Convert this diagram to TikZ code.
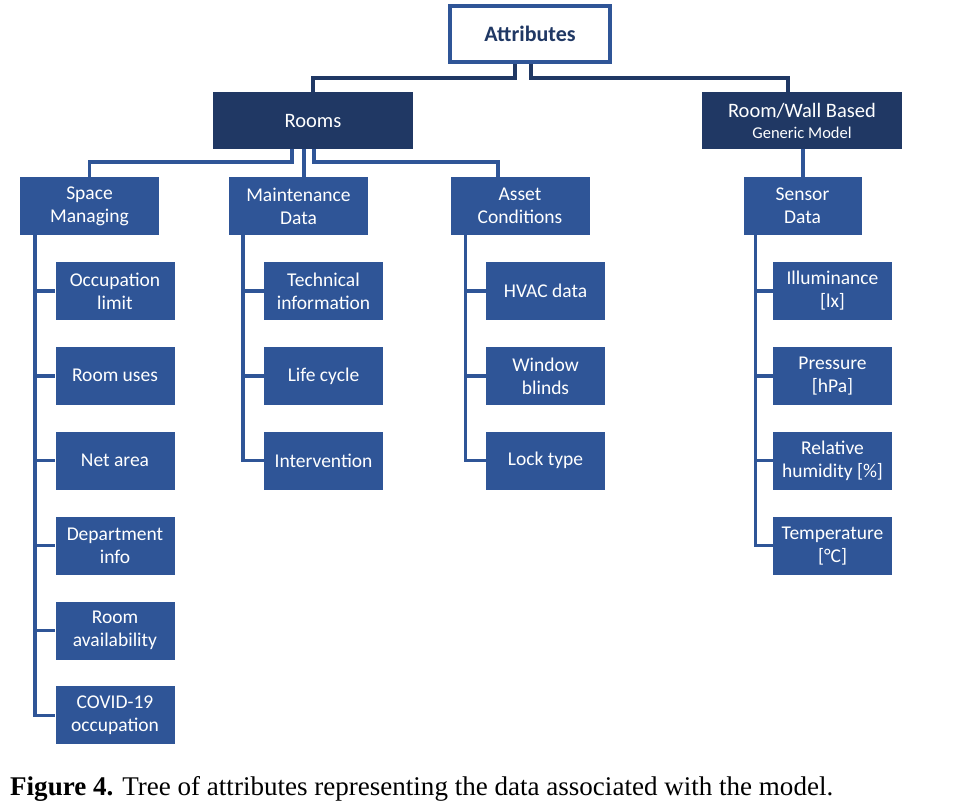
\documentclass[tikz,border=0pt]{standalone}
\usepackage{fontspec}
\setmainfont{Carlito}
\newfontfamily\capfont{Liberation Serif}
\usepackage{graphicx}
\usetikzlibrary{positioning}
\definecolor{navy}{HTML}{203864}
\definecolor{midblue}{HTML}{2F5597}

\begin{document}
\begin{tikzpicture}[
x=1pt, y=-1pt,
node distance=26.5pt,
  head/.style = {rectangle, draw=midblue, line width=4pt, fill=white,% root box
                 text=navy, minimum width=160pt, minimum height=56pt,
                 font=\fontsize{22}{26}\selectfont\bfseries},
  main/.style = {rectangle, fill=navy, text=white, align=center,% first level
                 minimum width=200pt, minimum height=57pt,
                 font=\fontsize{20.5}{24}\selectfont},
 group/.style = {rectangle, fill=midblue, text=white, align=center,% second level
                 minimum width=139pt, minimum height=58pt,
                 font=\fontsize{19.5}{23}\selectfont},
  leaf/.style = {group, minimum width=119pt},
  link/.style = {draw=navy, line width=4pt},
   bus/.style = {draw=midblue, line width=3.5pt},
                    ]
\useasboundingbox (0,0) rectangle (963,811);
% boxes
\node[head] (attr) at (530,34) {Attributes};
\node[main] (rooms) at (313,120.5) {Rooms};
\node[main] (rw) at (802,120.5) {Room/Wall Based\\[-3pt]{\fontsize{16.5}{19}\selectfont Generic Model}};
\node[group] (sm) at (89.5,206) {Space\\Managing};
\node[group] (md) at (298.5,206) {Maintenance\\Data};
\node[group] (ac) at (520,206) {Asset\\Conditions};
\node[group, minimum width=118pt] (sd) at (802.5,206) {Sensor\\Data};
% leaves
\node[leaf, below=of sm, xshift=25.5pt] (sm1) {Occupation\\limit};
\node[leaf, below=of sm1] (sm2) {Room uses};
\node[leaf, below=of sm2] (sm3) {Net area};
\node[leaf, below=of sm3] (sm4) {Department\\info};
\node[leaf, below=of sm4] (sm5) {Room\\availability};
\node[leaf, below=of sm5] (sm6) {COVID-19\\occupation};
\node[leaf, below=of md, xshift=25pt] (md1) {Technical\\information};
\node[leaf, below=of md1] (md2) {Life cycle};
\node[leaf, below=of md2] (md3) {Intervention};
\node[leaf, below=of ac, xshift=25.5pt] (ac1) {HVAC data};
\node[leaf, below=of ac1] (ac2) {Window\\blinds};
\node[leaf, below=of ac2] (ac3) {Lock type};
\node[leaf, below=of sd, xshift=30pt] (sd1) {Illuminance\\{[lx]}};
\node[leaf, below=of sd1] (sd2) {Pressure\\{[hPa]}};
\node[leaf, below=of sd2] (sd3) {Relative\\humidity [\%]};
\node[leaf, below=of sd3] (sd4) {Temperature\\{[°C]}};
% connectors
\draw[link] ([xshift=-15pt]attr.south) -- ++(0,14) -| (rooms.north);
\draw[link] ([xshift=1pt]attr.south) -- ++(0,14) -| ([xshift=-14pt]rw.north);
\draw[bus] ([xshift=-21pt]rooms.south) -- ++(0,13) -| (sm.north);
\draw[bus] ([xshift=-9pt]rooms.south) -- ([xshift=-9pt]rooms.south |- md.north);
\draw[bus] ([xshift=1pt]rooms.south) -- ++(0,13) -| ([xshift=-22pt]ac.north);
\draw[bus] ([xshift=1pt]rw.south) -- ([xshift=1pt]rw.south |- sd.north);
\foreach \g/\n/\o in {sm/6/15, md/3/14, ac/3/15, sd/4/12}
  \foreach \i in {1,...,\n}
    \draw[bus] ([xshift=\o pt]\g.south west) |- (\g\i.west);
% caption
\node[anchor=base west, inner sep=0pt] (caption) at (10,795)
  {\resizebox{823pt}{\height}{\capfont\fontsize{27}{30}\selectfont\textbf{Figure 4.} Tree of attributes representing the data associated with the model.}};
\end{tikzpicture}
\end{document}
